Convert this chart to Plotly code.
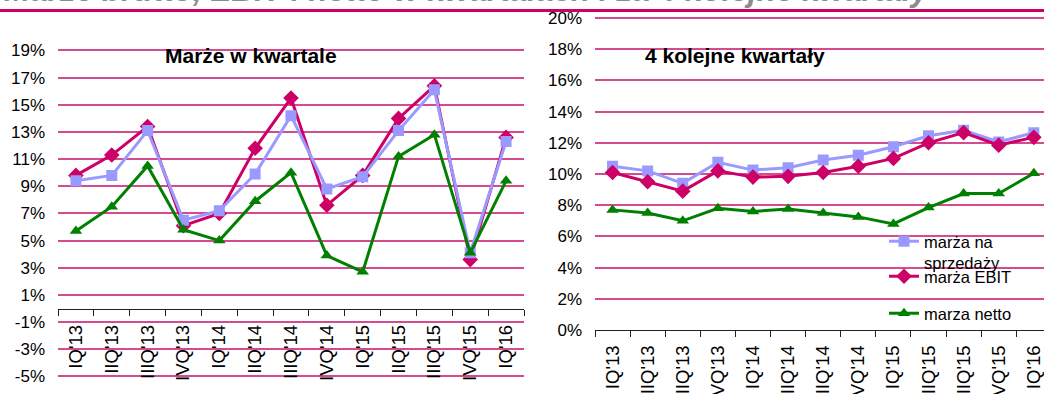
import plotly.graph_objects as go

W, H = 1044, 394

quarters = ["IQ'13", "IIQ'13", "IIIQ'13", "IVQ'13", "IQ'14", "IIQ'14", "IIIQ'14",
            "IVQ'14", "IQ'15", "IIQ'15", "IIIQ'15", "IVQ'15", "IQ'16"]

# Margins in each quarter (%)
q_sales = [9.4, 9.8, 13.1, 6.5, 7.2, 9.9, 14.2, 8.8, 9.7, 13.1, 16.1, 4.1, 12.3]
q_ebit = [9.8, 11.3, 13.4, 6.1, 7.0, 11.8, 15.5, 7.6, 9.8, 14.0, 16.4, 3.6, 12.6]
q_net = [5.7, 7.5, 10.5, 5.8, 5.0, 7.9, 10.0, 3.9, 2.7, 11.2, 12.8, 4.1, 9.4]

# Margins over the last four quarters (%)
r_sales = [10.5, 10.2, 9.4, 10.75, 10.25, 10.4, 10.9, 11.2, 11.75, 12.45, 12.8, 12.05, 12.65]
r_ebit = [10.1, 9.5, 8.9, 10.2, 9.8, 9.85, 10.1, 10.5, 11.0, 12.0, 12.65, 11.85, 12.35]
r_net = [7.7, 7.5, 7.0, 7.8, 7.6, 7.75, 7.5, 7.25, 6.8, 7.85, 8.75, 8.75, 10.05]

left_ticks = [-5, -3, -1, 1, 3, 5, 7, 9, 11, 13, 15, 17, 19]
right_ticks = [0, 2, 4, 6, 8, 10, 12, 14, 16, 18, 20]

series_names = ["marża na<br>sprzedaży", "marża EBIT", "marza netto"]

C_SALES = "#9999ff"
C_EBIT = "#cc0066"
C_NET = "#008000"
GRID = "#d64a90"
FONT = "Liberation Sans, Arial, sans-serif"


def px_x(p):
    return p / W


def px_y(p):
    return 1 - p / H


fig = go.Figure()

# Left panel: quarterly margins (EBIT under sales, net on top)
fig.add_trace(go.Scatter(x=quarters, y=q_ebit, mode="lines+markers", xaxis="x", yaxis="y",
                         line=dict(color=C_EBIT, width=3),
                         marker=dict(symbol="diamond", size=12, color=C_EBIT),
                         showlegend=False))
fig.add_trace(go.Scatter(x=quarters, y=q_sales, mode="lines+markers", xaxis="x", yaxis="y",
                         line=dict(color=C_SALES, width=3),
                         marker=dict(symbol="square", size=11, color=C_SALES),
                         showlegend=False))
fig.add_trace(go.Scatter(x=quarters, y=q_net, mode="lines+markers", xaxis="x", yaxis="y",
                         line=dict(color=C_NET, width=3),
                         marker=dict(symbol="triangle-up", size=11, color=C_NET),
                         showlegend=False))

# Right panel: rolling four-quarter margins
fig.add_trace(go.Scatter(x=quarters, y=r_sales, name=series_names[0], mode="lines+markers",
                         xaxis="x2", yaxis="y2", legend="legend",
                         line=dict(color=C_SALES, width=3),
                         marker=dict(symbol="square", size=11, color=C_SALES)))
fig.add_trace(go.Scatter(x=quarters, y=r_ebit, name=series_names[1], mode="lines+markers",
                         xaxis="x2", yaxis="y2", legend="legend2",
                         line=dict(color=C_EBIT, width=3),
                         marker=dict(symbol="diamond", size=12, color=C_EBIT)))
fig.add_trace(go.Scatter(x=quarters, y=r_net, name=series_names[2], mode="lines+markers",
                         xaxis="x2", yaxis="y2", legend="legend3",
                         line=dict(color=C_NET, width=3),
                         marker=dict(symbol="triangle-up", size=11, color=C_NET)))

# Left axes: 13.58 px per percentage point, 0% at y=308.5
lpp = 13.58
l_lo, l_hi = -5.5, 19.5
l_bot = 308.5 - l_lo * lpp
l_top = 308.5 - l_hi * lpp

# Right axes: 15.6 px per percentage point, 0% at y=330
rpp = 15.6
r_lo, r_hi = 0, 20.3
r_bot = 330 - r_lo * rpp
r_top = 330 - r_hi * rpp

ytickfont = dict(family=FONT, size=17, color="#000000")
xtickfont = dict(family=FONT, size=18.5, color="#000000")
legfont = dict(family=FONT, size=16.5, color="#000000")

fig.update_layout(
    width=W, height=H,
    margin=dict(l=0, r=0, t=0, b=0),
    paper_bgcolor="white", plot_bgcolor="white",
    font=dict(family=FONT, color="#000000"),
    xaxis=dict(domain=[px_x(58), px_x(524)], anchor="free", position=px_y(308.5),
               type="category", range=[-0.5, 12.5], showgrid=False, zeroline=False,
               showline=True, linecolor="#222222", linewidth=1.2,
               ticks="outside", tickson="boundaries", ticklen=6, tickcolor="#222222",
               tickangle=-90, tickfont=xtickfont, ticklabelstandoff=8, automargin=False),
    yaxis=dict(domain=[px_y(l_bot), px_y(l_top)], anchor="x", range=[l_lo, l_hi],
               tickvals=left_ticks, ticktext=[f"{v}%" for v in left_ticks],
               showgrid=True, gridcolor=GRID, gridwidth=1.7, zeroline=False,
               showline=False, ticks="", tickfont=ytickfont, ticklabelstandoff=12,
               automargin=False),
    xaxis2=dict(domain=[px_x(595), 1.0], anchor="y2",
                type="category", range=[-0.5, 12.29], showgrid=False, zeroline=False,
                showline=True, linecolor="#222222", linewidth=1.2,
                ticks="outside", tickson="boundaries", ticklen=6, tickcolor="#222222",
                tickangle=-90, tickfont=xtickfont, ticklabelstandoff=7, automargin=False),
    yaxis2=dict(domain=[px_y(r_bot), px_y(r_top)], anchor="x2", range=[r_lo, r_hi],
                tickvals=right_ticks, ticktext=[f"{v}%" for v in right_ticks],
                showgrid=True, gridcolor=GRID, gridwidth=1.7, zeroline=False,
                showline=False, ticks="", tickfont=ytickfont, ticklabelstandoff=12,
                automargin=False),
    legend=dict(x=px_x(884), y=px_y(224), xanchor="left", yanchor="top",
                bgcolor="rgba(0,0,0,0)", font=legfont, valign="top"),
    legend2=dict(x=px_x(884), y=px_y(259), xanchor="left", yanchor="top",
                 bgcolor="rgba(0,0,0,0)", font=legfont),
    legend3=dict(x=px_x(884), y=px_y(296), xanchor="left", yanchor="top",
                 bgcolor="rgba(0,0,0,0)", font=legfont),
    shapes=[
        # header rule
        dict(type="line", xref="paper", yref="paper", x0=0, x1=1,
             y0=px_y(10.5), y1=px_y(10.5), line=dict(color=C_EBIT, width=3)),
        # white panel behind the legend
        dict(type="rect", xref="paper", yref="paper", x0=px_x(846), x1=1.0,
             y0=px_y(329), y1=px_y(233), fillcolor="white", line=dict(width=0),
             layer="between"),
    ],
    annotations=[
        dict(text="<b><i>Marże brutto, EBIT i netto w kwartałach i za 4 kolejne kwartały</i></b>",
             xref="paper", yref="paper", x=px_x(2), y=px_y(-10), xanchor="left",
             yanchor="middle", showarrow=False,
             font=dict(family=FONT, size=31.5, color="#8c8c8c")),
        dict(text="<b>Marże w kwartale</b>", xref="paper", yref="paper",
             x=px_x(251), y=px_y(55), xanchor="center", yanchor="middle",
             showarrow=False, font=dict(family=FONT, size=21, color="#000000")),
        dict(text="<b>4 kolejne kwartały</b>", xref="paper", yref="paper",
             x=px_x(735), y=px_y(55), xanchor="center", yanchor="middle",
             showarrow=False, font=dict(family=FONT, size=21, color="#000000")),
    ],
)

fig.write_html("out.html")
